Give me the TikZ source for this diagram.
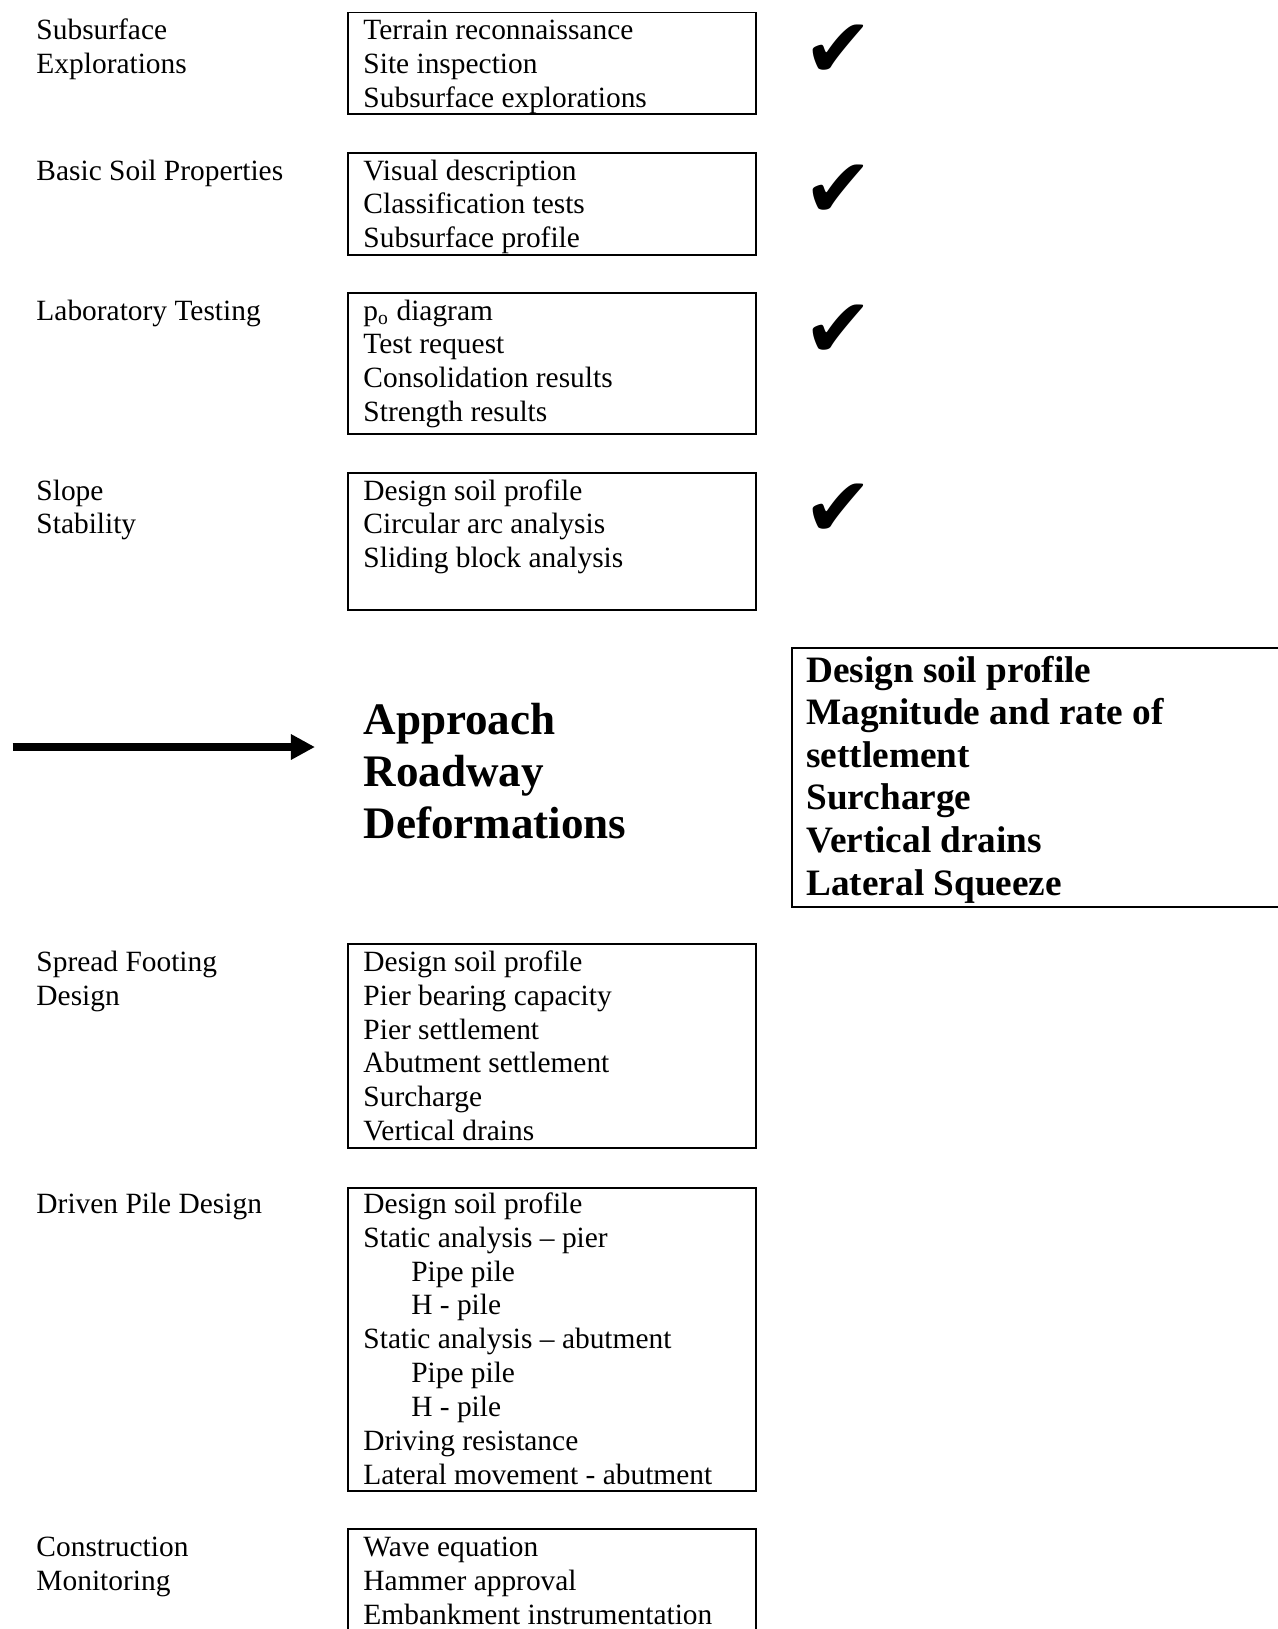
\documentclass[tikz,border=0pt]{standalone}
\usepackage{fontspec}
\setmainfont{Liberation Serif}
\newfontfamily\checkfont{DejaVu Sans}
\usetikzlibrary{fit,arrows.meta}
\newcommand{\rows}[1]{\begin{tabular}[t]{@{}l@{}}#1\end{tabular}}
\newcommand{\ind}{\hspace*{19.5pt}}
\begin{document}
\begin{tikzpicture}[x=0.408pt,y=-0.408pt,
  txt/.style={anchor=base west, inner sep=0pt, font=\fontsize{12}{13.8}\selectfont},
  bigtxt/.style={anchor=base west, inner sep=0pt, font=\fontsize{15.2}{17.4}\selectfont\bfseries},
  hugetxt/.style={anchor=base west, inner sep=0pt, font=\fontsize{18.4}{21.2}\selectfont\bfseries},
  box/.style={draw, line width=0.8pt, inner sep=0pt},
  check/.style={inner sep=0pt, font=\checkfont\fontsize{34}{34}\selectfont}]
\useasboundingbox (0,0) rectangle (1278,1629);
% boxes
\node[box, fit={(348,12.5) (756,114)}] (b1) {};
\node[box, fit={(348,153) (756,255)}] (b2) {};
\node[box, fit={(348,293) (756,434)}] (b3) {};
\node[box, fit={(348,473) (756,610)}] (b4) {};
\node[box, line width=1pt, fit={(792,648) (1300,907)}] (b0) {};
\node[box, fit={(348,944) (756,1148)}] (b5) {};
\node[box, fit={(348,1188) (756,1491)}] (b6) {};
\node[box, fit={(348,1529) (756,1680)}] (b7) {};
% left labels
\node[txt] (l1) at (36,39.5) {\rows{Subsurface\\Explorations}};
\node[txt] (l2) at (36,180) {\rows{Basic Soil Properties}};
\node[txt] (l3) at (36,320) {\rows{Laboratory Testing}};
\node[txt] (l4) at (36,500) {\rows{Slope\\Stability}};
\node[txt] (l5) at (36,971.5) {\rows{Spread Footing\\Design}};
\node[txt] (l6) at (36,1213.5) {\rows{Driven Pile Design}};
\node[txt] (l7) at (36,1556.5) {\rows{Construction\\Monitoring}};
% box texts
\node[txt] (t1) at (363,39.5) {\rows{Terrain reconnaissance\\Site inspection\\Subsurface explorations}};
\node[txt] (t2) at (363,180) {\rows{Visual description\\Classification tests\\Subsurface profile}};
\node[txt] (t3) at (363,320) {\rows{p\textsubscript{o} diagram\\Test request\\Consolidation results\\Strength results}};
\node[txt] (t4) at (363,500) {\rows{Design soil profile\\Circular arc analysis\\Sliding block analysis}};
\node[txt] (t5) at (363,971.5) {\rows{Design soil profile\\Pier bearing capacity\\Pier settlement\\Abutment settlement\\Surcharge\\Vertical drains}};
\node[txt] (t6) at (363,1213.5) {\rows{Design soil profile\\Static analysis – pier\\\ind Pipe pile\\\ind H - pile\\Static analysis – abutment\\\ind Pipe pile\\\ind H - pile\\Driving resistance\\Lateral movement - abutment}};
\node[txt] (t7) at (363,1556.5) {\rows{Wave equation\\Hammer approval\\Embankment instrumentation}};
% bold
\node[hugetxt] (appr) at (363,734.5) {\rows{Approach\\Roadway\\Deformations}};
\node[bigtxt] (t0) at (806,682) {\rows{Design soil profile\\Magnitude and rate of\\settlement\\Surcharge\\Vertical drains\\Lateral Squeeze}};
% checks
\node[check] (c1) at (838,51) {✔};
\node[check] (c2) at (838,191) {✔};
\node[check] (c3) at (838,331) {✔};
\node[check] (c4) at (838,510) {✔};
% arrow
\coordinate (as) at (12.5,747);
\coordinate (ae) at (315,747);
\draw[line width=3.2pt, -{Triangle[length=9.8pt,width=9.8pt]}] (as) -- (ae);
\end{tikzpicture}
\end{document}
